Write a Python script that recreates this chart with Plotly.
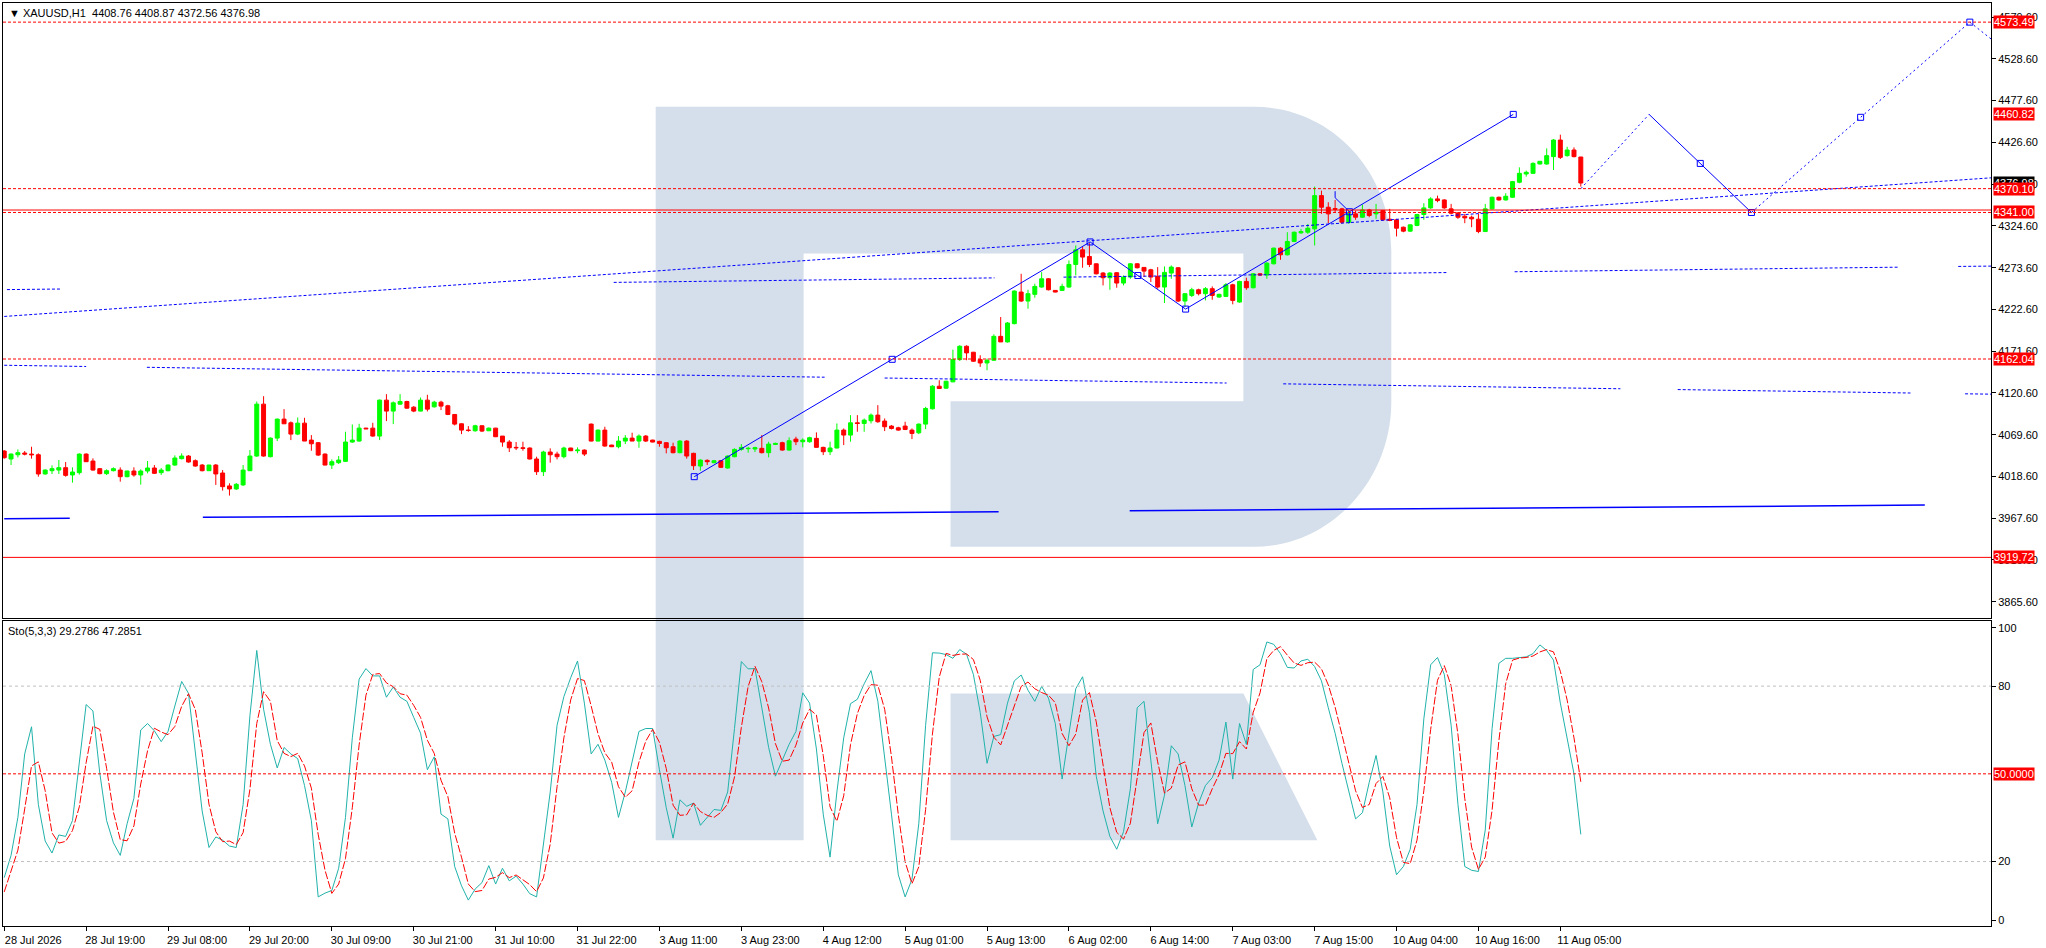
import plotly.graph_objects as go

# XAUUSD H1, 28 Jul 2026 07:00 .. 11 Aug 2026 08:00 (232 bars, one bar per x step)
opens = [
    4049.6, 4039.9, 4045.1, 4047.2, 4045.9, 4045.1, 4021.6, 4025.6, 4026.4, 4029.3,
    4020.4, 4023.2, 4045.9, 4037.4, 4028.1, 4022.0, 4025.6, 4026.4, 4018.3, 4025.2,
    4020.4, 4025.2, 4028.9, 4023.2, 4025.6, 4032.5, 4040.3, 4043.5, 4037.8, 4032.5,
    4025.6, 4032.5, 4022.8, 4007.0, 4003.3, 4008.2, 4025.6, 4043.5, 4106.9, 4042.7,
    4065.4, 4088.6, 4084.1, 4070.3, 4083.7, 4063.0, 4059.8, 4045.9, 4032.5, 4035.4,
    4037.0, 4060.6, 4061.8, 4077.6, 4077.6, 4067.9, 4111.8, 4098.4, 4106.9, 4110.1,
    4103.2, 4098.4, 4111.8, 4103.6, 4109.3, 4104.9, 4094.3, 4082.9, 4075.2, 4074.4,
    4080.5, 4074.4, 4077.6, 4067.9, 4060.6, 4054.1, 4053.6, 4053.3, 4039.9, 4024.4,
    4048.4, 4045.9, 4042.7, 4053.3, 4050.0, 4050.8, 4082.5, 4061.8, 4075.2, 4056.9,
    4054.9, 4061.8, 4065.4, 4061.8, 4067.9, 4063.0, 4061.4, 4059.8, 4054.9, 4047.6,
    4061.8, 4046.8, 4031.3, 4038.2, 4035.4, 4037.8, 4028.9, 4042.7, 4051.6, 4052.5,
    4052.1, 4052.9, 4047.6, 4057.7, 4059.8, 4050.8, 4064.2, 4061.0, 4061.0, 4065.1,
    4054.1, 4048.8, 4053.3, 4075.2, 4069.1, 4084.1, 4083.3, 4086.6, 4093.5, 4086.2,
    4080.1, 4078.0, 4080.1, 4075.2, 4071.9, 4082.5, 4101.2, 4128.8, 4126.4, 4134.1,
    4161.3, 4177.6, 4170.3, 4161.3, 4157.2, 4160.5, 4189.7, 4182.9, 4205.2, 4243.8,
    4232.8, 4241.0, 4249.9, 4260.0, 4245.8, 4245.8, 4249.9, 4277.5, 4295.4, 4287.3,
    4278.3, 4267.0, 4261.3, 4267.4, 4254.8, 4262.1, 4278.3, 4273.9, 4271.0, 4262.9,
    4249.9, 4267.0, 4273.5, 4232.8, 4239.7, 4246.6, 4241.8, 4247.9, 4237.7, 4238.5,
    4252.7, 4231.6, 4256.8, 4249.1, 4266.1, 4264.5, 4278.3, 4297.4, 4289.3, 4305.6,
    4316.1, 4316.9, 4321.0, 4361.6, 4347.4, 4345.8, 4345.4, 4329.1, 4339.3, 4335.2,
    4344.1, 4339.3, 4343.3, 4332.8, 4332.0, 4323.0, 4318.2, 4325.1, 4338.5, 4346.6,
    4357.6, 4356.3, 4345.4, 4340.5, 4336.4, 4335.2, 4332.8, 4317.7, 4345.4, 4359.6,
    4356.3, 4359.6, 4377.9, 4388.0, 4388.8, 4400.2, 4400.2, 4409.2, 4429.5, 4410.4,
    4417.3, 4408.76,
]
highs = [
    4050.8, 4046.8, 4051.6, 4049.6, 4054.9, 4046.8, 4027.3, 4032.1, 4038.6, 4036.2,
    4029.7, 4046.8, 4046.8, 4040.7, 4028.9, 4027.3, 4029.7, 4029.7, 4025.6, 4029.7,
    4027.3, 4037.4, 4032.5, 4028.9, 4033.3, 4044.3, 4046.8, 4044.7, 4039.4, 4033.8,
    4032.9, 4033.8, 4026.4, 4010.2, 4010.6, 4032.5, 4050.8, 4110.1, 4116.6, 4066.3,
    4089.4, 4100.8, 4085.8, 4090.6, 4090.2, 4069.1, 4060.6, 4046.8, 4039.4, 4043.5,
    4073.2, 4082.1, 4082.9, 4078.0, 4084.1, 4112.6, 4119.1, 4110.1, 4119.1, 4111.0,
    4104.5, 4115.0, 4118.3, 4111.0, 4111.0, 4106.1, 4094.7, 4083.3, 4080.1, 4081.7,
    4080.9, 4078.4, 4078.0, 4067.9, 4063.0, 4060.6, 4061.0, 4054.1, 4042.7, 4050.0,
    4052.9, 4048.8, 4054.9, 4053.6, 4054.1, 4051.6, 4083.3, 4076.0, 4079.3, 4057.3,
    4067.9, 4069.1, 4072.0, 4069.9, 4069.1, 4063.4, 4062.2, 4060.6, 4059.8, 4063.0,
    4063.0, 4047.6, 4039.5, 4039.5, 4038.6, 4038.6, 4044.3, 4052.9, 4058.1, 4054.9,
    4054.9, 4069.1, 4061.0, 4059.8, 4061.0, 4066.3, 4067.1, 4065.1, 4067.1, 4072.4,
    4054.9, 4061.0, 4083.3, 4077.2, 4093.5, 4093.5, 4089.4, 4095.5, 4105.7, 4089.4,
    4081.3, 4079.3, 4085.4, 4077.2, 4083.3, 4103.6, 4130.1, 4136.1, 4135.3, 4173.5,
    4178.8, 4178.8, 4170.7, 4166.6, 4162.5, 4192.2, 4213.3, 4207.2, 4245.8, 4266.1,
    4246.6, 4254.0, 4268.1, 4260.8, 4246.2, 4254.0, 4282.4, 4300.7, 4299.5, 4303.5,
    4278.7, 4268.2, 4268.2, 4268.2, 4264.1, 4279.1, 4279.1, 4274.3, 4272.2, 4274.3,
    4275.1, 4276.3, 4274.3, 4242.6, 4249.1, 4247.9, 4249.9, 4250.7, 4241.8, 4254.8,
    4254.0, 4257.6, 4261.3, 4267.0, 4267.0, 4280.4, 4298.2, 4298.6, 4316.9, 4317.7,
    4321.0, 4327.1, 4372.6, 4367.7, 4353.5, 4356.3, 4346.6, 4343.3, 4343.3, 4350.6,
    4345.4, 4351.5, 4344.1, 4345.4, 4333.2, 4323.8, 4326.3, 4339.3, 4352.3, 4359.6,
    4361.6, 4357.1, 4351.5, 4341.3, 4339.3, 4337.2, 4339.3, 4351.5, 4360.4, 4360.4,
    4364.5, 4379.5, 4396.1, 4392.1, 4402.2, 4403.9, 4419.3, 4430.7, 4436.0, 4421.3,
    4420.5, 4408.87,
]
lows = [
    4040.3, 4032.5, 4041.9, 4044.3, 4040.3, 4018.3, 4020.8, 4021.6, 4021.6, 4018.3,
    4011.0, 4020.8, 4036.2, 4025.6, 4021.2, 4020.4, 4024.8, 4012.2, 4017.5, 4018.3,
    4008.6, 4022.4, 4021.6, 4020.4, 4024.8, 4031.7, 4039.4, 4035.4, 4030.5, 4024.8,
    4025.2, 4008.2, 4001.3, 3995.2, 4002.1, 4007.0, 4025.2, 4042.7, 4042.7, 4041.9,
    4061.8, 4082.9, 4063.0, 4069.1, 4061.8, 4050.0, 4043.5, 4032.1, 4027.7, 4033.8,
    4036.2, 4059.8, 4061.0, 4076.4, 4067.1, 4063.0, 4086.2, 4082.5, 4106.1, 4101.2,
    4097.1, 4098.0, 4098.0, 4102.8, 4099.6, 4093.5, 4080.9, 4070.3, 4073.2, 4073.2,
    4072.8, 4074.0, 4066.7, 4054.9, 4048.4, 4050.8, 4050.0, 4039.4, 4020.4, 4019.1,
    4035.4, 4039.4, 4040.7, 4049.6, 4046.8, 4043.5, 4061.4, 4061.4, 4054.9, 4054.5,
    4052.9, 4058.1, 4061.8, 4053.6, 4060.6, 4060.2, 4054.9, 4046.8, 4046.8, 4046.8,
    4040.3, 4026.5, 4025.6, 4032.5, 4034.6, 4028.9, 4028.1, 4041.9, 4050.0, 4047.6,
    4048.4, 4046.8, 4041.9, 4056.9, 4050.0, 4050.0, 4056.9, 4054.1, 4059.8, 4054.1,
    4044.7, 4044.7, 4052.9, 4056.9, 4061.0, 4073.2, 4073.2, 4083.3, 4084.1, 4074.0,
    4076.0, 4074.4, 4075.2, 4064.2, 4070.3, 4076.4, 4100.4, 4125.8, 4125.6, 4133.7,
    4159.7, 4160.5, 4158.5, 4152.4, 4148.3, 4159.7, 4182.9, 4182.1, 4204.4, 4231.8,
    4223.5, 4236.9, 4249.1, 4245.8, 4243.4, 4245.0, 4249.1, 4264.1, 4273.5, 4274.3,
    4265.3, 4251.9, 4246.6, 4249.1, 4251.9, 4260.0, 4272.6, 4262.1, 4256.0, 4247.9,
    4230.4, 4260.0, 4231.6, 4225.5, 4237.7, 4239.7, 4233.6, 4234.4, 4236.9, 4237.7,
    4228.8, 4230.8, 4246.6, 4248.3, 4263.7, 4260.0, 4277.5, 4283.2, 4288.5, 4304.8,
    4314.9, 4314.9, 4300.7, 4339.3, 4327.9, 4341.3, 4327.1, 4327.1, 4332.0, 4334.4,
    4335.2, 4333.2, 4331.2, 4330.3, 4311.7, 4316.9, 4317.3, 4324.2, 4332.0, 4345.4,
    4353.5, 4345.4, 4338.5, 4333.2, 4327.9, 4323.0, 4315.7, 4317.7, 4344.6, 4355.5,
    4355.5, 4358.8, 4376.7, 4384.8, 4388.0, 4399.8, 4399.4, 4392.9, 4406.3, 4409.2,
    4408.3, 4372.56,
]
closes = [
    4041.5, 4045.9, 4047.6, 4045.9, 4045.1, 4021.6, 4026.4, 4028.1, 4029.3, 4019.9,
    4024.0, 4045.9, 4036.6, 4026.4, 4022.0, 4025.6, 4028.1, 4018.3, 4025.2, 4020.4,
    4025.2, 4028.9, 4022.4, 4026.4, 4032.5, 4041.1, 4043.5, 4036.2, 4031.3, 4025.6,
    4032.5, 4021.6, 4006.1, 4003.3, 4009.0, 4026.4, 4043.5, 4106.9, 4043.5, 4065.4,
    4088.6, 4082.9, 4070.3, 4083.7, 4061.8, 4058.5, 4044.7, 4032.5, 4036.6, 4038.6,
    4060.6, 4063.0, 4077.6, 4076.8, 4067.9, 4111.8, 4098.4, 4108.5, 4110.1, 4102.0,
    4098.4, 4111.8, 4100.8, 4109.3, 4104.5, 4094.3, 4082.5, 4075.2, 4074.8, 4080.5,
    4074.0, 4077.6, 4067.1, 4060.6, 4053.6, 4053.6, 4052.9, 4039.9, 4024.4, 4048.4,
    4045.1, 4042.7, 4053.3, 4050.0, 4050.8, 4045.9, 4061.8, 4075.2, 4055.7, 4054.9,
    4061.8, 4065.4, 4061.8, 4067.9, 4061.8, 4060.6, 4058.9, 4053.6, 4047.6, 4061.8,
    4043.5, 4031.7, 4038.6, 4036.6, 4037.8, 4029.7, 4043.5, 4051.6, 4054.1, 4052.9,
    4053.7, 4047.6, 4058.1, 4058.9, 4050.8, 4062.2, 4061.0, 4063.0, 4065.9, 4054.1,
    4048.8, 4053.3, 4075.2, 4069.1, 4084.1, 4083.3, 4087.4, 4093.5, 4085.4, 4079.3,
    4077.2, 4075.2, 4076.0, 4071.1, 4082.5, 4101.6, 4128.8, 4126.0, 4134.9, 4161.3,
    4177.6, 4169.5, 4159.3, 4157.2, 4160.5, 4189.7, 4182.9, 4206.0, 4245.0, 4232.8,
    4241.8, 4250.7, 4260.0, 4246.6, 4243.8, 4250.7, 4277.5, 4295.4, 4286.5, 4277.5,
    4266.1, 4261.3, 4267.0, 4254.8, 4262.1, 4278.3, 4273.5, 4269.4, 4262.1, 4249.9,
    4267.8, 4274.3, 4232.8, 4241.8, 4246.6, 4241.8, 4247.9, 4239.7, 4241.0, 4252.7,
    4233.6, 4256.8, 4249.1, 4266.1, 4264.5, 4279.1, 4297.4, 4289.3, 4305.6, 4316.9,
    4317.7, 4321.8, 4361.6, 4347.4, 4339.3, 4345.0, 4329.1, 4339.3, 4335.2, 4344.1,
    4337.3, 4341.3, 4332.0, 4331.2, 4321.8, 4318.2, 4325.9, 4338.5, 4346.6, 4357.6,
    4355.5, 4346.6, 4340.1, 4335.2, 4334.4, 4333.2, 4317.7, 4345.4, 4359.6, 4356.3,
    4360.8, 4378.7, 4388.8, 4390.1, 4401.0, 4403.5, 4410.4, 4429.5, 4408.3, 4417.3,
    4409.2, 4376.98,
]

# Stochastic (5,3,3): main and signal
sto_main = [
    14.5, 22.1, 35.1, 56.8, 66.1, 39.5, 27.0, 22.9, 29.1, 28.6,
    34.0, 53.6, 73.7, 71.5, 50.3, 34.0, 26.4, 22.1, 32.9, 41.6,
    65.0, 67.2, 64.7, 61.0, 64.5, 73.2, 81.6, 77.5, 56.8, 37.3,
    24.8, 28.4, 27.3, 25.3, 24.8, 39.5, 69.9, 92.2, 72.1, 60.1,
    52.0, 59.0, 56.8, 55.2, 46.0, 34.0, 7.9, 9.2, 10.1, 17.7,
    35.1, 62.3, 82.4, 86.0, 83.5, 83.5, 76.2, 79.7, 76.2, 74.8,
    69.3, 63.9, 51.4, 55.8, 36.2, 34.6, 18.3, 11.7, 6.8, 10.6,
    12.8, 18.6, 12.3, 17.7, 13.4, 15.0, 12.3, 9.0, 7.9, 26.4,
    43.8, 66.6, 76.4, 82.9, 88.6, 74.2, 56.8, 60.1, 54.7, 47.1,
    35.1, 43.8, 53.6, 64.5, 65.5, 65.5, 51.4, 38.4, 28.0, 41.1,
    38.9, 40.0, 32.4, 35.1, 37.8, 37.5, 43.8, 65.5, 88.4, 85.9,
    86.0, 72.6, 59.0, 49.2, 54.7, 60.1, 64.5, 77.7, 74.2, 58.5,
    36.2, 21.5, 43.8, 62.3, 74.0, 75.5, 80.8, 85.3, 74.8, 56.3,
    36.2, 15.5, 7.9, 13.9, 32.9, 66.6, 91.4, 91.3, 90.8, 89.5,
    92.5, 90.9, 84.0, 71.0, 53.6, 62.8, 63.4, 74.2, 81.8, 83.8,
    78.6, 74.8, 79.9, 75.9, 67.2, 48.2, 63.4, 79.1, 83.2, 71.0,
    49.2, 37.3, 28.6, 24.2, 30.2, 44.9, 72.6, 74.8, 54.7, 32.9,
    42.7, 59.6, 56.8, 46.0, 31.8, 40.0, 46.0, 48.7, 54.7, 67.7,
    48.2, 67.2, 60.1, 85.7, 87.3, 95.1, 94.3, 91.1, 86.4, 86.2,
    88.6, 89.2, 86.7, 81.8, 72.6, 63.9, 53.6, 44.3, 34.6, 36.7,
    47.1, 56.3, 43.8, 25.3, 15.5, 18.3, 24.2, 39.5, 68.8, 87.3,
    89.8, 84.0, 66.6, 39.5, 18.3, 17.0, 16.6, 30.8, 65.5, 87.8,
    89.5, 89.5, 89.8, 90.0, 91.1, 94.1, 92.2, 88.9, 74.2, 62.6,
    50.0, 29.2786,
]
sto_signal = [
    9.6, 16.6, 23.9, 38.0, 52.7, 54.1, 44.2, 29.8, 26.3, 26.9,
    30.6, 38.7, 53.8, 66.3, 65.2, 51.9, 36.9, 27.5, 27.1, 32.2,
    46.5, 57.9, 65.6, 64.3, 63.4, 66.2, 73.1, 77.4, 72.0, 57.2,
    39.6, 30.2, 26.8, 27.0, 25.8, 29.9, 44.7, 67.2, 78.1, 74.8,
    61.4, 57.0, 55.9, 57.0, 52.7, 45.1, 29.3, 17.0, 9.1, 12.3,
    21.0, 38.4, 59.9, 76.9, 84.0, 84.3, 81.1, 79.8, 77.4, 76.9,
    73.4, 69.3, 61.5, 57.0, 47.8, 42.2, 29.7, 21.5, 12.3, 9.7,
    10.1, 14.0, 14.6, 16.2, 14.5, 15.4, 13.6, 12.1, 9.7, 14.4,
    26.0, 45.6, 62.3, 75.3, 82.6, 81.9, 73.2, 63.7, 57.2, 54.0,
    45.6, 42.0, 44.2, 54.0, 61.2, 65.2, 60.8, 51.8, 39.3, 35.8,
    36.0, 40.0, 37.1, 35.8, 35.1, 36.8, 39.7, 48.9, 65.9, 79.9,
    86.8, 81.5, 72.5, 60.3, 54.3, 54.7, 59.8, 67.4, 72.1, 70.1,
    56.3, 38.7, 33.8, 42.5, 60.0, 70.6, 76.8, 80.5, 80.3, 72.1,
    55.8, 36.0, 19.9, 12.4, 18.2, 37.8, 63.6, 83.1, 91.2, 90.5,
    90.9, 91.0, 89.1, 82.0, 69.5, 62.5, 59.9, 66.8, 73.1, 79.9,
    81.4, 79.1, 77.8, 76.9, 74.3, 63.8, 59.6, 63.6, 75.2, 77.8,
    67.8, 52.5, 38.4, 30.0, 27.7, 33.1, 49.2, 64.1, 67.4, 54.1,
    43.4, 45.1, 53.0, 54.1, 44.9, 39.3, 39.3, 44.9, 49.8, 57.0,
    56.9, 61.0, 58.5, 71.0, 77.7, 89.4, 92.2, 93.5, 90.6, 87.9,
    87.1, 88.0, 88.2, 85.9, 80.4, 72.8, 63.4, 53.9, 44.2, 38.5,
    39.5, 46.7, 49.1, 41.8, 28.2, 19.7, 19.3, 27.3, 44.2, 65.2,
    82.0, 87.0, 80.1, 63.4, 41.5, 24.9, 17.3, 21.5, 37.6, 61.4,
    80.9, 88.9, 89.6, 89.8, 90.3, 91.7, 92.5, 91.7, 85.1, 75.2,
    62.3, 47.2851,
]

time_tick_bars = [0, 12, 24, 36, 48, 60, 72, 84, 96, 108,
                  120, 132, 144, 156, 168, 180, 192, 204, 216, 228]
time_tick_text = ["28 Jul 2026", "28 Jul 19:00", "29 Jul 08:00", "29 Jul 20:00",
                  "30 Jul 09:00", "30 Jul 21:00", "31 Jul 10:00", "31 Jul 22:00",
                  "3 Aug 11:00", "3 Aug 23:00", "4 Aug 12:00", "5 Aug 01:00",
                  "5 Aug 13:00", "6 Aug 02:00", "6 Aug 14:00", "7 Aug 03:00",
                  "7 Aug 15:00", "10 Aug 04:00", "10 Aug 16:00", "11 Aug 05:00"]
price_ticks = [3865.6, 3916.6, 3967.6, 4018.6, 4069.6, 4120.6, 4171.6, 4222.6,
               4273.6, 4324.6, 4375.6, 4426.6, 4477.6, 4528.6, 4579.6]
sto_ticks = [0, 20, 80, 100]

# horizontal levels
level_prices = [4573.49, 4370.10, 4341.00, 4162.04]   # dashed red
solid_levels = [4344.0, 3919.72]                       # solid red
label_levels = [4573.49, 4460.82, 4370.10, 4341.00, 4162.04, 3919.72]
last_price = 4376.98

# pattern drawn on history (bar, price)
pattern_bars = [101.1, 159.1, 173.1, 221.1]
pattern_prices = [4018.3, 4305.0, 4223.0, 4460.8]
mini_bars = [195.0, 195.0, 197.1, 197.1]
mini_prices = [4367.0, 4359.0, 4342.0, 4328.0]
# forecast path
fc_bars = [231, 241, 256, 288, 291.1]
fc_prices = [4370.10, 4460.82, 4341.00, 4573.49, 4553.0]

# channel-like dotted lines (segment ends: bar, price)
l2_bars = [0, 291.1]
l2_prices = [4214.0, 4383.3]
l4_bars = [0, 12, None, 20.9, 120.2, None, 129, 179.1, None, 187.4, 236.8,
           None, 245.2, 279.3, None, 287.3, 291.1]
l4_prices = [4154.4, 4152.9, None, 4151.9, 4139.8, None, 4138.8, 4132.7, None,
             4131.7, 4125.7, None, 4124.7, 4120.5, None, 4119.5, 4119.1]
l5_bars = [0.4, 8.2, None, 89.3, 145.1, None, 155.2, 211.3, None, 221.3, 277.7,
           None, 286.3, 291.1]
l5_prices = [4246.8, 4247.5, None, 4255.6, 4261.1, None, 4262.0, 4267.6, None,
             4268.6, 4274.2, None, 4275.1, 4275.5]
l6_bars = [0, 9.6, None, 29.1, 145.7, None, 164.9, 281.4]
l6_prices = [3966.9, 3967.5, None, 3968.6, 3975.5, None, 3976.6, 3983.6]

FONT = "Liberation Sans, Arial, sans-serif"
BLUE = "#0000ff"
W, H = 2046, 948
ML, MR, MT, MB = 2, 55, 2, 21
PW, PH = W - ML - MR, H - MT - MB


def px(x, y):
    # screen pixel -> paper coords (used only for the watermark)
    return (x - ML) / PW, (H - MB - y) / PH


def path(points):
    out = []
    for p in points:
        if isinstance(p, str):
            out.append(p)
        else:
            a, b = px(*p)
            out.append(f"{a:.5f},{b:.5f}")
    return " ".join(out)


bars = list(range(len(closes)))
fig = go.Figure()

fig.add_trace(go.Candlestick(
    x=bars, open=opens, high=highs, low=lows, close=closes,
    increasing=dict(line=dict(color="#00ff00", width=1), fillcolor="#00ff00"),
    decreasing=dict(line=dict(color="#ff0000", width=1), fillcolor="#ff0000"),
    whiskerwidth=0, showlegend=False, hoverinfo="skip"))

for xs, ys, dash, width in [(l2_bars, l2_prices, "3px,2px", 1),
                            (l4_bars, l4_prices, "3px,2px", 1),
                            (l5_bars, l5_prices, "3px,2px", 1),
                            (l6_bars, l6_prices, "solid", 1.5)]:
    fig.add_trace(go.Scatter(x=xs, y=ys, mode="lines", showlegend=False,
                             line=dict(color=BLUE, width=width, dash=dash),
                             hoverinfo="skip", connectgaps=False))

# pattern with mid-point markers
mid_b = [(pattern_bars[i] + pattern_bars[i + 1]) / 2 for i in range(3)]
mid_p = [(pattern_prices[i] + pattern_prices[i + 1]) / 2 for i in range(3)]
fig.add_trace(go.Scatter(x=pattern_bars, y=pattern_prices, mode="lines+markers",
                         line=dict(color=BLUE, width=1),
                         marker=dict(symbol="square-open", size=6, color=BLUE),
                         showlegend=False, hoverinfo="skip"))
fig.add_trace(go.Scatter(x=mid_b, y=mid_p, mode="markers",
                         marker=dict(symbol="square-open", size=6, color=BLUE),
                         showlegend=False, hoverinfo="skip"))
fig.add_trace(go.Scatter(x=mini_bars, y=mini_prices, mode="lines",
                         line=dict(color=BLUE, width=1), showlegend=False,
                         hoverinfo="skip"))

# forecast
for i, dash in enumerate(["2px,3px", "solid", "2px,3px", "2px,3px"]):
    fig.add_trace(go.Scatter(x=fc_bars[i:i + 2], y=fc_prices[i:i + 2], mode="lines",
                             line=dict(color=BLUE, width=1, dash=dash),
                             showlegend=False, hoverinfo="skip"))
fig.add_trace(go.Scatter(
    x=[(fc_bars[1] + fc_bars[2]) / 2, fc_bars[2], (fc_bars[2] + fc_bars[3]) / 2, fc_bars[3]],
    y=[(fc_prices[1] + fc_prices[2]) / 2, fc_prices[2], (fc_prices[2] + fc_prices[3]) / 2, fc_prices[3]],
    mode="markers", marker=dict(symbol="square-open", size=6, color=BLUE),
    showlegend=False, hoverinfo="skip"))

# stochastic
fig.add_trace(go.Scatter(x=bars, y=sto_main, mode="lines", xaxis="x2", yaxis="y2",
                         line=dict(color="#20b2aa", width=1), showlegend=False,
                         hoverinfo="skip"))
fig.add_trace(go.Scatter(x=bars, y=sto_signal, mode="lines", xaxis="x2", yaxis="y2",
                         line=dict(color="#ff0000", width=1, dash="8px,2px"),
                         showlegend=False, hoverinfo="skip"))

shapes = []
# watermark logo
logo = path(["M", (655, 106), "L", (1254, 106), "C", (1330, 106), (1391, 170), (1391, 250),
             "L", (1391, 402), "C", (1391, 480), (1330, 547), (1254, 547),
             "L", (950, 547), "L", (950, 401), "L", (1243, 401), "L", (1243, 253),
             "L", (803, 253), "L", (803, 841), "L", (655, 841), "Z"])
leg = path(["M", (950, 694), "L", (1243, 694), "L", (1317, 841), "L", (950, 841), "Z"])
for p in (logo, leg):
    shapes.append(dict(type="path", path=p, xref="paper", yref="paper",
                       fillcolor="#d4dfeb", line=dict(width=0), layer="below"))

for lv in level_prices:
    shapes.append(dict(type="line", xref="paper", x0=0, x1=1, yref="y", y0=lv, y1=lv,
                       line=dict(color="#ff0000", width=1, dash="3px,2px")))
for lv in solid_levels:
    shapes.append(dict(type="line", xref="paper", x0=0, x1=1, yref="y", y0=lv, y1=lv,
                       line=dict(color="#ff0000", width=1)))
for lv in (20, 80):
    shapes.append(dict(type="line", xref="paper", x0=0, x1=1, yref="y2", y0=lv, y1=lv,
                       line=dict(color="#c0c0c0", width=1, dash="3px,3px")))
shapes.append(dict(type="line", xref="paper", x0=0, x1=1, yref="y2", y0=50, y1=50,
                   line=dict(color="#ff0000", width=1, dash="3px,2px")))

annotations = [
    dict(text="\u25bc XAUUSD,H1  4408.76 4408.87 4372.56 4376.98", xref="paper", yref="paper",
         x=0, y=1, xanchor="left", yanchor="top", xshift=4, yshift=-2, showarrow=False,
         font=dict(family=FONT, size=11, color="black")),
    dict(text="Sto(5,3,3) 29.2786 47.2851", xref="paper", yref="paper",
         x=0, y=(H - MB - 621) / PH, xanchor="left", yanchor="top", xshift=3, yshift=-2,
         showarrow=False, font=dict(family=FONT, size=11, color="black")),
    dict(text=f"{last_price:.2f}", xref="paper", yref="y", x=1, y=last_price,
         xanchor="left", yanchor="middle", xshift=2, showarrow=False, bgcolor="black",
         borderpad=0, font=dict(family=FONT, size=11, color="white")),
]
for lv in label_levels:
    annotations.append(dict(text=f"{lv:.2f}", xref="paper", yref="y", x=1, y=lv,
                            xanchor="left", yanchor="middle", xshift=2, showarrow=False,
                            bgcolor="#ff0000", borderpad=0,
                            font=dict(family=FONT, size=11, color="white")))
annotations.append(dict(text="50.0000", xref="paper", yref="y2", x=1, y=50,
                        xanchor="left", yanchor="middle", xshift=2, showarrow=False,
                        bgcolor="#ff0000", borderpad=0,
                        font=dict(family=FONT, size=11, color="white")))

axis_common = dict(showgrid=False, zeroline=False, showline=True, mirror=True,
                   linecolor="black", linewidth=1, fixedrange=True,
                   tickfont=dict(family=FONT, size=11, color="black"),
                   tickcolor="black")
xr = [-0.18, 291.1]

fig.update_layout(
    width=W, height=H,
    margin=dict(l=ML, r=MR, t=MT, b=MB, pad=0),
    paper_bgcolor="white", plot_bgcolor="rgba(0,0,0,0)",
    font=dict(family=FONT, size=11, color="black"),
    showlegend=False, hovermode=False,
    boxgap=0.42, boxgroupgap=0,
    xaxis=dict(domain=[0, 1], anchor="y", range=xr, showticklabels=False, ticks="",
               rangeslider=dict(visible=False), **axis_common),
    yaxis=dict(domain=[(H - MB - 618) / PH, 1], anchor="x", side="right",
               range=[3846.1, 4596.85], tickvals=price_ticks,
               ticktext=[f"{v:.2f}" for v in price_ticks], ticks="outside", ticklen=4,
               **axis_common),
    xaxis2=dict(domain=[0, 1], anchor="y2", range=xr, tickvals=time_tick_bars,
                ticktext=time_tick_text, ticks="outside", ticklen=4, tickangle=0,
                ticklabelshift=29, **axis_common),
    yaxis2=dict(domain=[0, (H - MB - 621) / PH], anchor="x2", side="right",
                range=[-2.05, 102.39], tickvals=sto_ticks,
                ticktext=[str(v) for v in sto_ticks], ticks="outside", ticklen=4,
                **axis_common),
    shapes=shapes, annotations=annotations,
)

# the page body has a default 8px margin; drop it so the figure fills the window
fig.write_html("out.html", config={"displayModeBar": False},
               post_script="document.body.style.margin='0';document.body.style.overflow='hidden';")
